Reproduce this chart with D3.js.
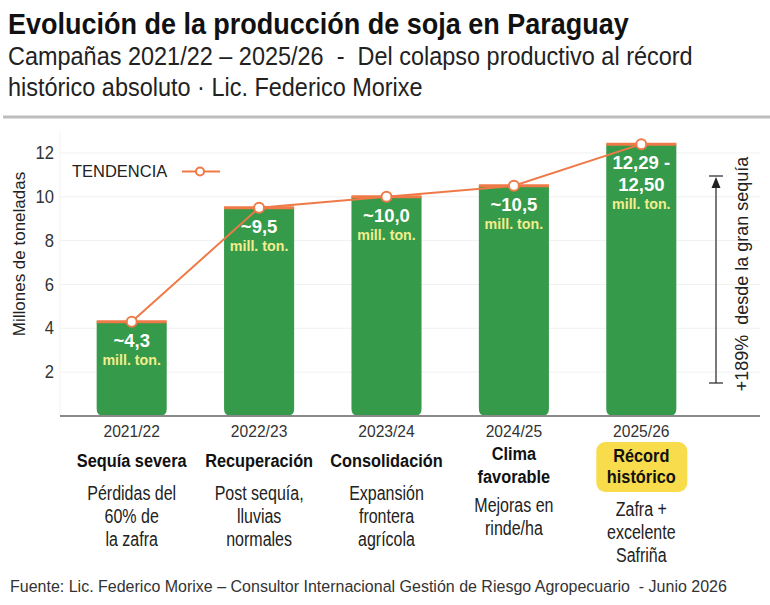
<!DOCTYPE html>
<html>
<head>
<meta charset="utf-8" />
<title>Soja Paraguay</title>
<script src="https://cdn.jsdelivr.net/npm/d3@7"></script>
<style>
  body { margin:0; background:#fff; }
  svg { display:block; font-family:"Liberation Sans",Arial,sans-serif; }
</style>
</head>
<body>
<svg id="CHART" width="770" height="605"></svg>
<script>
// ---- data ----
var campaigns = ["2021/22", "2022/23", "2023/24", "2024/25", "2025/26"];
var production = [4.3, 9.5, 10.0, 10.5, 12.4];
var valueLabels = [["~4,3"], ["~9,5"], ["~10,0"], ["~10,5"], ["12,29 -", "12,50"]];
var phaseTitles = [["Sequía severa"], ["Recuperación"], ["Consolidación"], ["Clima", "favorable"], ["Récord", "histórico"]];
var phaseNotes = [["Pérdidas del", "60% de", "la zafra"], ["Post sequía,", "lluvias", "normales"],
                  ["Expansión", "frontera", "agrícola"], ["Mejoras en", "rinde/ha"], ["Zafra +", "excelente", "Safriña"]];
var yTicks = [2, 4, 6, 8, 10, 12];

var GREEN = "#369a4b", ORANGE = "#ef7a47", PALE = "#f2ee8c", HILITE = "#f8dc4b";

var svg = d3.select("#CHART");

// text helper: condensed look by squeezing horizontally (no narrow font installed)
function txt(parent, x, y, s, o) {
  o = o || {};
  var t = parent.append("text")
    .attr("transform", "translate(" + x + "," + y + ") scale(" + (o.k || 1) + ",1)" + (o.rot ? " rotate(" + o.rot + ")" : ""))
    .attr("font-size", o.size || 16)
    .attr("font-weight", o.weight || "normal")
    .attr("fill", o.fill || "#222")
    .attr("text-anchor", o.anchor || "start")
    .attr("xml:space", "preserve")
    .text(s);
  return t;
}

// ---- header ----
txt(svg, 8, 34, "Evolución de la producción de soja en Paraguay", {size: 30, weight: "bold", k: 0.9, fill: "#111"});
txt(svg, 8, 65, "Campañas 2021/22 – 2025/26  -  Del colapso productivo al récord", {size: 25.5, k: 0.92});
txt(svg, 8, 96, "histórico absoluto · Lic. Federico Morixe", {size: 25.5, k: 0.92});
svg.append("line").attr("x1", 3).attr("x2", 770).attr("y1", 117).attr("y2", 117)
  .attr("stroke", "#bdbdbd").attr("stroke-width", 3);

// ---- scales ----
var x = d3.scaleBand().domain(campaigns).range([68, 705]).paddingInner(0.45).paddingOuter(0.225);
var y = d3.scaleLinear().domain([0, 13]).range([416, 131]);
var bw = x.bandwidth();

// grid
svg.append("g").selectAll("line").data(yTicks).join("line")
  .attr("x1", 60).attr("x2", 760)
  .attr("y1", d => y(d)).attr("y2", d => y(d))
  .attr("stroke", "#f1f1f1");
svg.append("line").attr("x1", 60).attr("x2", 60).attr("y1", 131).attr("y2", 416).attr("stroke", "#f3f3f3");

// y axis
var yAxis = svg.append("g").attr("transform", "translate(54,0)")
  .call(d3.axisLeft(y).tickValues(yTicks).tickSize(0).tickPadding(0));
yAxis.select(".domain").remove();
yAxis.selectAll("text").attr("font-size", 17.5).attr("fill", "#333")
  .attr("font-family", "Liberation Sans,Arial,sans-serif")
  .attr("transform", "scale(0.95,1)");
txt(svg, 25, 254, "Millones de toneladas", {size: 17, anchor: "middle", rot: -90});

// bars with rounded bottom
function barPath(d, i) {
  var x0 = x(campaigns[i]), x1 = x0 + bw, t = y(d), b = y(0), r = 7;
  return "M" + x0 + "," + t + "H" + x1 + "V" + (b - r) + "Q" + x1 + "," + b + " " + (x1 - r) + "," + b +
         "H" + (x0 + r) + "Q" + x0 + "," + b + " " + x0 + "," + (b - r) + "Z";
}
svg.append("g").selectAll("path").data(production).join("path")
  .attr("d", barPath).attr("fill", GREEN);
svg.append("g").selectAll("line").data(production).join("line")
  .attr("x1", (d, i) => x(campaigns[i])).attr("x2", (d, i) => x(campaigns[i]) + bw)
  .attr("y1", d => y(d)).attr("y2", d => y(d))
  .attr("stroke", ORANGE).attr("stroke-width", 3);

// baseline
svg.append("line").attr("x1", 60).attr("x2", 760).attr("y1", 416).attr("y2", 416)
  .attr("stroke", "#8a8a8a").attr("stroke-width", 2);

// value labels inside bars
var vl = svg.append("g");
production.forEach(function (d, i) {
  var cx = x(campaigns[i]) + bw / 2, top = y(d);
  var lines = valueLabels[i];
  lines.forEach(function (s, k) {
    txt(vl, cx, top + 25 + k * 22, s, {size: 18.5, weight: "bold", fill: "#fff", anchor: "middle"});
  });
  txt(vl, cx, top + 25 + (lines.length - 1) * 22 + 18, "mill. ton.",
      {size: 15.5, weight: "bold", fill: PALE, anchor: "middle", k: 0.92});
});

// trend line
var line = d3.line().x((d, i) => x(campaigns[i]) + bw / 2).y(d => y(d));
svg.append("path").datum(production).attr("d", line)
  .attr("fill", "none").attr("stroke", ORANGE).attr("stroke-width", 2);
svg.append("g").selectAll("circle").data(production).join("circle")
  .attr("cx", (d, i) => x(campaigns[i]) + bw / 2).attr("cy", d => y(d)).attr("r", 5)
  .attr("fill", "#fff").attr("stroke", ORANGE).attr("stroke-width", 2);

// legend
txt(svg, 72, 177, "TENDENCIA", {size: 17, k: 0.97});
svg.append("line").attr("x1", 182).attr("x2", 220).attr("y1", 171.5).attr("y2", 171.5)
  .attr("stroke", ORANGE).attr("stroke-width", 2);
svg.append("circle").attr("cx", 200).attr("cy", 171.5).attr("r", 4)
  .attr("fill", "#fff").attr("stroke", ORANGE).attr("stroke-width", 2);

// growth annotation
var ann = svg.append("g").attr("stroke", "#333").attr("stroke-width", 1.3);
ann.append("line").attr("x1", 716).attr("x2", 716).attr("y1", 180).attr("y2", 383);
ann.append("line").attr("x1", 709).attr("x2", 723).attr("y1", 176).attr("y2", 176);
ann.append("line").attr("x1", 709).attr("x2", 723).attr("y1", 383).attr("y2", 383);
svg.append("path").attr("d", "M716,177 L711.5,188 L720.5,188 Z").attr("fill", "#222");
txt(svg, 748, 274, "+189%  desde la gran sequía", {size: 18, anchor: "middle", rot: -90});

// x labels
var xl = svg.append("g");
var titleBase = [[467], [467], [467], [460, 483], [461.5, 483]];
var noteBase = [500, 500, 500, 512, 516];
campaigns.forEach(function (c, i) {
  var cx = x(c) + bw / 2;
  txt(xl, cx, 437, c, {size: 17, k: 0.92, fill: "#333", anchor: "middle"});
  if (i === 4) {
    xl.append("rect").attr("x", cx - 45).attr("y", 442).attr("width", 91).attr("height", 50)
      .attr("rx", 9).attr("fill", HILITE);
  }
  phaseTitles[i].forEach(function (s, k) {
    txt(xl, cx, titleBase[i][k], s, {size: 19, weight: "bold", k: 0.86, fill: "#111", anchor: "middle"});
  });
  phaseNotes[i].forEach(function (s, k) {
    txt(xl, cx, noteBase[i] + k * 22.8, s, {size: 20, k: 0.8, anchor: "middle"});
  });
});

// footer
txt(svg, 10, 592, "Fuente: Lic. Federico Morixe – Consultor Internacional Gestión de Riesgo Agropecuario  - Junio 2026",
    {size: 16.5, k: 0.97, fill: "#333"});
</script>
</body>
</html>
